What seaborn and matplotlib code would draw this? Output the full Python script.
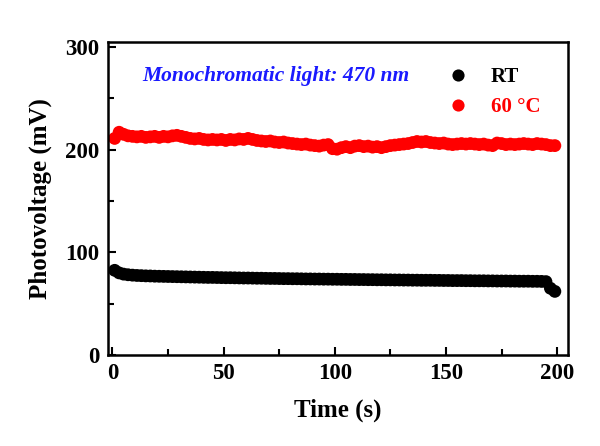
import numpy as np
import pandas as pd
import matplotlib
matplotlib.use("Agg")
import matplotlib.pyplot as plt
from matplotlib.ticker import MultipleLocator
import seaborn as sns

# time points (s)
time_s = list(range(1, 200, 2))

# photovoltage at room temperature (mV)
rt_mv = [82.5, 80.0, 78.8, 78.2, 77.8, 77.5, 77.3, 77.1, 77.0, 76.8,
         76.7, 76.6, 76.5, 76.4, 76.3, 76.2, 76.1, 76.0, 75.9, 75.8,
         75.7, 75.6, 75.6, 75.5, 75.4, 75.3, 75.3, 75.2, 75.1, 75.0,
         75.0, 74.9, 74.8, 74.8, 74.7, 74.6, 74.6, 74.5, 74.4, 74.4,
         74.3, 74.3, 74.2, 74.1, 74.1, 74.0, 74.0, 73.9, 73.9, 73.8,
         73.8, 73.7, 73.7, 73.6, 73.6, 73.5, 73.5, 73.4, 73.4, 73.3,
         73.3, 73.2, 73.2, 73.1, 73.1, 73.0, 73.0, 72.9, 72.9, 72.8,
         72.8, 72.8, 72.7, 72.7, 72.6, 72.6, 72.5, 72.5, 72.5, 72.4,
         72.4, 72.3, 72.3, 72.3, 72.2, 72.2, 72.1, 72.1, 72.1, 72.0,
         72.0, 71.9, 71.9, 71.9, 71.8, 71.8, 71.7, 71.5, 65.0, 62.0]

# photovoltage at 60 °C (mV)
hot_mv = [211.0, 217.0, 215.0, 213.5, 213.0, 212.5, 213.0, 212.0, 212.5, 213.0,
          212.0, 213.0, 212.5, 213.5, 214.0, 213.0, 212.0, 211.0, 210.5, 211.0,
          210.0, 209.5, 210.0, 209.5, 210.0, 209.0, 210.0, 209.5, 210.5, 210.0,
          211.0, 210.0, 209.0, 208.5, 208.0, 208.5, 207.5, 207.0, 207.5, 206.5,
          206.0, 205.5, 205.0, 205.5, 204.5, 204.0, 203.5, 204.5, 205.0, 201.0,
          200.5, 202.0, 203.0, 202.0, 203.5, 204.0, 203.0, 203.5, 202.5, 203.0,
          202.0, 203.0, 204.0, 204.5, 205.0, 205.5, 206.0, 207.0, 208.0, 207.5,
          208.0, 207.0, 206.5, 206.0, 206.5, 205.5, 205.0, 205.5, 206.0, 205.5,
          206.0, 205.5, 205.0, 205.5, 204.5, 204.0, 206.5, 206.0, 205.0, 205.5,
          205.0, 205.5, 206.0, 205.5, 205.0, 206.0, 205.5, 205.0, 204.0, 204.0]

series_labels = ["RT", "60 °C"]
series_colors = ["black", "red"]

df = pd.DataFrame({"time": time_s * 2,
                   "pv": rt_mv + hot_mv,
                   "cond": [series_labels[0]] * len(time_s) + [series_labels[1]] * len(time_s)})

sns.set_style("ticks")
plt.rcParams["font.family"] = ["Liberation Serif", "DejaVu Serif"]
plt.rcParams["font.weight"] = "bold"
plt.rcParams["axes.labelweight"] = "bold"
plt.rcParams["text.color"] = "black"
plt.rcParams["axes.labelcolor"] = "black"
plt.rcParams["axes.edgecolor"] = "black"
plt.rcParams["xtick.color"] = "black"
plt.rcParams["ytick.color"] = "black"

fig = plt.figure(figsize=(6, 4.46), dpi=100)
ax = fig.add_axes([0.18, 0.204, 0.767, 0.702])

sns.scatterplot(data=df, x="time", y="pv", hue="cond", hue_order=series_labels,
                palette=series_colors, s=85, linewidth=0, ax=ax)

ax.set_xlim(-2, 205)
ax.set_ylim(0, 305)
ax.xaxis.set_major_locator(MultipleLocator(50))
ax.xaxis.set_minor_locator(MultipleLocator(25))
ax.yaxis.set_major_locator(MultipleLocator(100))
ax.yaxis.set_minor_locator(MultipleLocator(50))
ax.tick_params(which="both", direction="in", width=1.5, labelsize=16.5, pad=6)
ax.tick_params(which="major", length=6)
ax.tick_params(which="minor", length=4)
for sp in ax.spines.values():
    sp.set_visible(True)
    sp.set_linewidth(1.8)
    sp.set_color("black")

ax.set_xlabel("Time (s)", fontsize=18, labelpad=10)
ax.set_ylabel("Photovoltage (mV)", fontsize=18, labelpad=10)

ax.text(0.075, 0.89, "Monochromatic light: 470 nm", transform=ax.transAxes,
        color="#1a1aff", fontsize=15.5, fontweight="bold", fontstyle="italic",
        va="center", ha="left")

leg = ax.legend(loc="upper right", frameon=False, fontsize=15, markerscale=0.95,
                handletextpad=0.6, labelspacing=0.45, borderaxespad=0.6,
                labelcolor=series_colors, bbox_to_anchor=(0.985, 0.985))
for t in leg.get_texts():
    t.set_fontweight("bold")

fig.savefig("out.png", dpi=100)
